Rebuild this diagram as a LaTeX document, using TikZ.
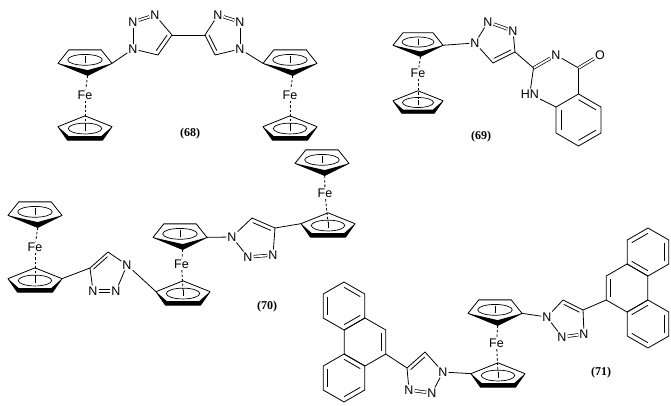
\documentclass[tikz,border=0pt]{standalone}
\usepackage{fontspec}
\setmainfont{Liberation Sans}
\newfontfamily\lblfont{Liberation Serif}
\usetikzlibrary{calc}
\newcommand\cpdown[3]{%
 \begin{scope}[shift={(#1,#2)},scale=#3]
  \fill (-1,0.05)--(0.1,0.5)--(1,0.05)--(0.1,0.3)--cycle;
  \draw (-1,0.05)--(-0.6,-0.45)--(0.6,-0.45)--(1,0.05)--(0.1,0.5)--cycle;
  \draw[line width=0.7pt] (0,-0.08) ellipse (0.64 and 0.2);
  \draw[line width=0.6pt] (0,-0.22)--(0,0.02);
 \end{scope}}
\newcommand\cpup[3]{%
 \begin{scope}[shift={(#1,#2)},scale=#3]
  \fill (-1,-0.05)--(-0.65,0.45)--(0.65,0.45)--(1,-0.05)--(0.6,0.3)--(-0.6,0.3)--cycle;
  \draw (-1,-0.05)--(0,-0.45)--(1,-0.05)--(0.65,0.45)--(-0.65,0.45)--cycle;
  \draw[line width=0.7pt] (0,0.02) ellipse (0.62 and 0.2);
  \draw[line width=0.6pt] (0,-0.1)--(0,0.12);
 \end{scope}}
\newcommand\ferro[6]{%
 \cpdown{#2}{#3}{#6}
 \cpup{#4}{#5}{#6}
 \node[atom] (#1) at ({(#2+#4)/2},{(#3+#5)/2}) {Fe};
 \draw[fed] ({#2+0.1*#6},{#3+0.5*#6}) -- (#1);
 \draw[fed] (#1) -- (#4,{#5-0.1*#6});
 \coordinate (#1ur) at ({#2+#6},{#3+0.05*#6});
 \coordinate (#1ul) at ({#2-#6},{#3+0.05*#6});
 \coordinate (#1lr) at ({#4+#6},{#5-0.05*#6});
 \coordinate (#1ll) at ({#4-#6},{#5-0.05*#6});
}
\newcommand\hexa[3]{%
 \coordinate (#1c) at (#2,#3);
 \coordinate (#1t) at ({#2},{#3-24});
 \coordinate (#1ur) at ({#2+20.8},{#3-12});
 \coordinate (#1lr) at ({#2+20.8},{#3+12});
 \coordinate (#1b) at ({#2},{#3+24});
 \coordinate (#1ll) at ({#2-20.8},{#3+12});
 \coordinate (#1ul) at ({#2-20.8},{#3-12});
 \draw (#1t)--(#1ur)--(#1lr)--(#1b)--(#1ll)--(#1ul)--cycle;}
\newcommand\idb[3]{\draw ($(#3)!.78!(#1)$) -- ($(#3)!.78!(#2)$);}
\begin{document}
\begin{tikzpicture}[x=1pt,y=-1pt,line width=0.8pt,line join=round,
 atom/.style={inner sep=0.8pt,font=\fontsize{12.5}{12.5}\selectfont},
 lbl/.style={font=\lblfont\bfseries\fontsize{12}{14}\selectfont},
 dbl/.style={double,double distance=1.8pt,line width=0.7pt},
 fed/.style={line width=0.8pt,dash pattern=on 2.5pt off 2pt}]
\useasboundingbox (0,0) rectangle (671,405);
% ---------- (68)
\ferro{fA}{85}{62}{85}{128}{27}
\ferro{fB}{290}{62}{290}{128}{27}
\node[atom] (a1) at (133,49) {N};
\node[atom] (a2) at (133,22) {N};
\node[atom] (a3) at (155,15) {N};
\coordinate (a4) at (172,35); \coordinate (a5) at (158,55); \coordinate (a0) at (150,35);
\draw (a1)--(a2); \draw[dbl] (a2)--(a3); \draw (a3)--(a4)--(a5)--(a1); \idb{a4}{a5}{a0}
\node[atom] (b1) at (240,49) {N};
\node[atom] (b2) at (240,22) {N};
\node[atom] (b3) at (218,15) {N};
\coordinate (b4) at (205,35); \coordinate (b5) at (215,55); \coordinate (b0) at (223,35);
\draw (b1)--(b2); \draw[dbl] (b2)--(b3); \draw (b3)--(b4)--(b5)--(b1); \idb{b4}{b5}{b0}
\draw (a4)--(b4);
\draw (fAur)--(a1); \draw (fBul)--(b1);
\node[lbl] (L68) at (190,134) {(68)};
% ---------- (69)
\ferro{fC}{418}{44}{418}{102}{25}
\node[atom] (c1) at (475,43) {N};
\node[atom] (c2) at (488,22) {N};
\node[atom] (c3) at (513,31) {N};
\coordinate (c4) at (515,52); \coordinate (c5) at (493,63); \coordinate (c0) at (497,42);
\draw (c1)--(c2); \draw[dbl] (c2)--(c3); \draw (c3)--(c4)--(c5)--(c1); \idb{c4}{c5}{c0}
\draw (fCur)--(c1);
\node[atom] (q3) at (556,55) {N};
\coordinate (q4) at (578.5,68); \coordinate (q4a) at (578.5,94);
\coordinate (q8a) at (556,107); \coordinate (q2) at (533.5,68);
\node[atom,anchor=east] (q1) at (540,94) {HN};
\node[atom] (qo) at (600,55) {O};
\draw[dbl] (q2)--(q3); \draw (q3)--(q4)--(q4a)--(q8a)--(q1)--(q2); \draw[dbl] (q4)--(qo);
\draw (c4)--(q2);
\coordinate (qb) at (578.5,120); \coordinate (q5) at (601,107); \coordinate (q6) at (601,133);
\coordinate (q7) at (578.5,146); \coordinate (q8) at (556,133);
\draw (q4a)--(q5)--(q6)--(q7)--(q8)--(q8a);
\idb{q4a}{q5}{qb} \idb{q6}{q7}{qb} \idb{q8}{q8a}{qb}
\node[lbl] (L69) at (481,137) {(69)};
% ---------- (70)
\ferro{fD}{35}{214}{35}{280}{27}
\ferro{fE}{180}{236}{183}{293}{27}
\ferro{fF}{322}{162}{328}{225}{27}
\coordinate (d4) at (90,268); \coordinate (d5) at (108,252); \coordinate (d0) at (106,273);
\node[atom] (d1) at (127,265) {N};
\node[atom] (d2) at (116,291) {N};
\node[atom] (d3) at (93,291) {N};
\draw (d1)--(d2); \draw[dbl] (d2)--(d3); \draw (d3)--(d4)--(d5)--(d1); \idb{d4}{d5}{d0}
\draw (fDlr)--(d4); \draw (d1)--(fEll);
\node[atom] (e1) at (232,237) {N};
\node[atom] (e2) at (248,257) {N};
\node[atom] (e3) at (273,255) {N};
\coordinate (e4) at (275,228); \coordinate (e5) at (252,218); \coordinate (e0) at (256,239);
\draw (e1)--(e2); \draw[dbl] (e2)--(e3); \draw (e3)--(e4)--(e5)--(e1); \idb{e4}{e5}{e0}
\draw (fEur)--(e1); \draw (e4)--(fFll);
\node[lbl] (L70) at (267,307) {(70)};
% ---------- (71)
\ferro{fG}{495}{312}{498}{375}{27}
\node[atom] (g1) at (547,317) {N};
\node[atom] (g2) at (562,337) {N};
\node[atom] (g3) at (584,334) {N};
\coordinate (g4) at (583,310); \coordinate (g5) at (563,300); \coordinate (g0) at (567,320);
\draw (g1)--(g2); \draw[dbl] (g2)--(g3); \draw (g3)--(g4)--(g5)--(g1); \idb{g4}{g5}{g0}
\draw (fGur)--(g1);
\node[atom] (h1) at (443,372) {N};
\node[atom] (h2) at (432,393) {N};
\node[atom] (h3) at (409,390) {N};
\coordinate (h4) at (407,368); \coordinate (h5) at (425,352); \coordinate (h0) at (424,375);
\draw (h1)--(h2); \draw[dbl] (h2)--(h3); \draw (h3)--(h4)--(h5)--(h1); \idb{h4}{h5}{h0}
\draw (h1)--(fGll);
% right phenanthrene
\hexa{rm}{627}{288} \hexa{ru}{648}{252} \hexa{rl}{648}{324}
\idb{rmll}{rmul}{rmc}
\idb{rub}{rull}{ruc} \idb{ruul}{rut}{ruc} \idb{ruur}{rulr}{ruc}
\idb{rlul}{rlt}{rlc} \idb{rlur}{rllr}{rlc} \idb{rlb}{rlll}{rlc}
\draw (g4)--(rmll);
% left phenanthrene
\hexa{lm}{365}{342} \hexa{lu}{344}{306} \hexa{lo}{344}{378}
\idb{lmur}{lmlr}{lmc}
\idb{lulr}{lub}{luc} \idb{lull}{luul}{luc} \idb{lut}{luur}{luc}
\idb{lot}{lour}{loc} \idb{lolr}{lob}{loc} \idb{loll}{loul}{loc}
\draw (h4)--(lmlr);
\node[lbl] (L71) at (601,373) {(71)};
\end{tikzpicture}
\end{document}
